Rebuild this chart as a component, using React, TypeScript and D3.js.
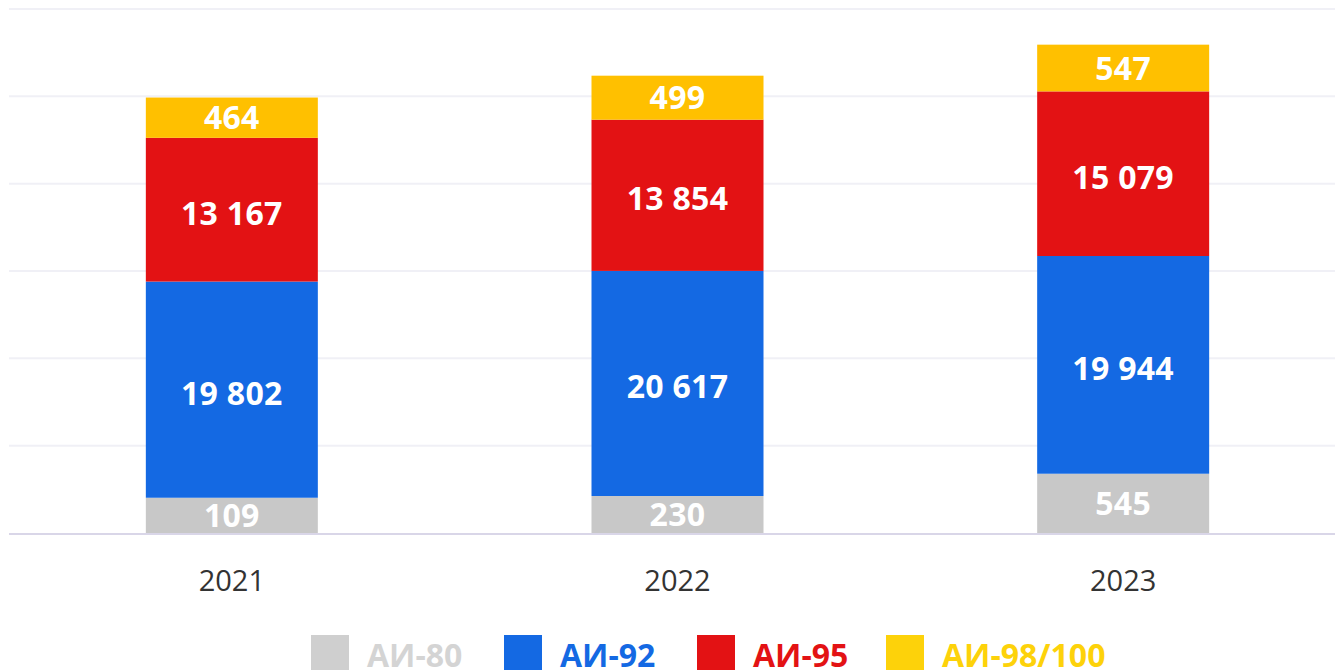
import React from "react";
import * as d3 from "d3";

const years = ["2021", "2022", "2023"];
const ai80 = [109, 230, 545];
const ai92 = [19802, 20617, 19944];
const ai95 = [13167, 13854, 15079];
const ai98 = [464, 499, 547];
// The source draws the two thin series taller than their values; these are the heights
const ai80Shown = [3230, 3390, 5430];
const ai98Shown = [3690, 4030, 4280];
const yTicks = [0, 8000, 16000, 24000, 32000, 40000, 48000];

const seriesNames = ["АИ-80", "АИ-92", "АИ-95", "АИ-98/100"];
const barColors = ["#c8c8c8", "#1469e3", "#e31214", "#ffc000"];
const legendSwatch = ["#cfcfcf", "#1469e3", "#e31214", "#fdd20a"];
const legendText = ["#d4d4d4", "#1469e3", "#e31214", "#fdd20a"];

const W = 1335;
const H = 670;
const FONT = "'Open Sans', 'Noto Sans', sans-serif";

const locale = d3.formatLocale({ decimal: ",", thousands: " ", grouping: [3], currency: ["", ""] });
const fmt = locale.format(",d");

export default function App() {
  const x = d3.scaleBand<string>().domain(years).range([9, 1346]).padding(0);
  const y = d3.scaleLinear().domain([0, 48000]).range([533, 9]);
  const barW = 172;

  const stacks = years.map((yr, i) => {
    const shown = [ai80Shown[i], ai92[i], ai95[i], ai98Shown[i]];
    const labels = [ai80[i], ai92[i], ai95[i], ai98[i]];
    let acc = 0;
    return shown.map((v, k) => {
      const y0 = acc;
      acc += v;
      return { yr, k, y0, y1: acc, label: labels[k] };
    });
  });

  const legendX = [311, 504, 697, 886];

  return (
    <svg
      width={W}
      height={H}
      style={{ position: "absolute", left: 0, top: 0, background: "#fff" }}
      fontFamily={FONT}
    >
      {yTicks.filter((t) => t > 0).map((t) => (
        <line key={t} x1={9} x2={W} y1={y(t)} y2={y(t)} stroke="#f0f0f6" strokeWidth={2} />
      ))}
      {stacks.map((segs) =>
        segs.map((s) => {
          const cx = (x(s.yr) as number) + x.bandwidth() / 2;
          const top = y(s.y1);
          const bot = y(s.y0);
          const big = s.k === 1 || s.k === 2;
          return (
            <g key={s.yr + s.k}>
              <rect x={cx - barW / 2} y={top} width={barW} height={bot - top} fill={barColors[s.k]} />
              <text
                x={cx}
                y={(top + bot) / 2 + (big ? 3.5 : 0)}
                dy="0.36em"
                textAnchor="middle"
                fill="#fff"
                fontWeight={700}
                fontSize={32}
                letterSpacing={0.3}
              >
                {fmt(s.label)}
              </text>
            </g>
          );
        })
      )}
      <line x1={9} x2={W} y1={y(0) + 1} y2={y(0) + 1} stroke="#d9d6e8" strokeWidth={2} />
      {years.map((yr) => (
        <text
          key={yr}
          x={(x(yr) as number) + x.bandwidth() / 2}
          y={581}
          dy="0.36em"
          textAnchor="middle"
          fill="#333"
          fontSize={29}
        >
          {yr}
        </text>
      ))}
      {seriesNames.map((n, k) => (
        <g key={n}>
          <rect x={legendX[k]} y={635} width={38} height={35} fill={legendSwatch[k]} />
          <text x={legendX[k] + 56} y={667} fill={legendText[k]} fontWeight={700} fontSize={32}>
            {n}
          </text>
        </g>
      ))}
    </svg>
  );
}
